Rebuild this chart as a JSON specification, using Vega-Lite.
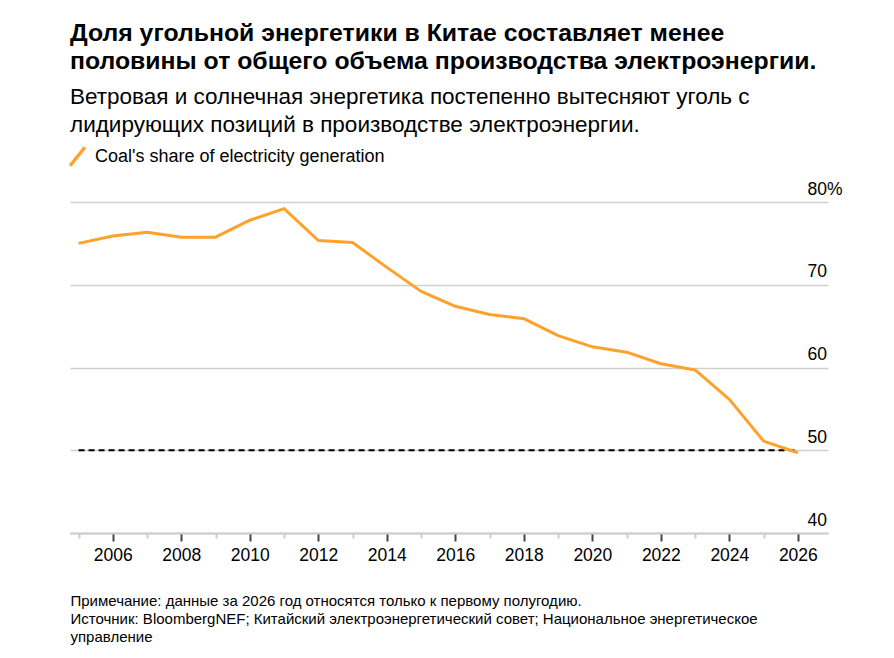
{
  "$schema": "https://vega.github.io/schema/vega-lite/v6.json",
  "description": "Coal's share of electricity generation in China",
  "width": 758,
  "height": 331,
  "autosize": "none",
  "padding": {"left": 70, "top": 202, "right": 66, "bottom": 125},
  "background": "white",
  "view": {"stroke": null},
  "title": {
    "text": ["Доля угольной энергетики в Китае составляет менее", "половины от общего объема производства электроэнергии."],
    "subtitle": ["Ветровая и солнечная энергетика постепенно вытесняют уголь с", "лидирующих позиций в производстве электроэнергии."],
    "anchor": "start",
    "frame": "group",
    "font": "Liberation Sans",
    "fontSize": 24.8,
    "fontWeight": "bold",
    "lineHeight": 28,
    "color": "#000000",
    "subtitleFont": "Liberation Sans",
    "subtitleFontSize": 22.5,
    "subtitleLineHeight": 28,
    "subtitleColor": "#000000",
    "subtitlePadding": 12,
    "offset": 6
  },
  "datasets": {
    "coal": [
      {"year": 2005, "share": 75.0, "series": "Coal's share of electricity generation"},
      {"year": 2006, "share": 75.9, "series": "Coal's share of electricity generation"},
      {"year": 2007, "share": 76.35, "series": "Coal's share of electricity generation"},
      {"year": 2008, "share": 75.75, "series": "Coal's share of electricity generation"},
      {"year": 2009, "share": 75.75, "series": "Coal's share of electricity generation"},
      {"year": 2010, "share": 77.8, "series": "Coal's share of electricity generation"},
      {"year": 2011, "share": 79.2, "series": "Coal's share of electricity generation"},
      {"year": 2012, "share": 75.35, "series": "Coal's share of electricity generation"},
      {"year": 2013, "share": 75.1, "series": "Coal's share of electricity generation"},
      {"year": 2014, "share": 72.1, "series": "Coal's share of electricity generation"},
      {"year": 2015, "share": 69.2, "series": "Coal's share of electricity generation"},
      {"year": 2016, "share": 67.4, "series": "Coal's share of electricity generation"},
      {"year": 2017, "share": 66.4, "series": "Coal's share of electricity generation"},
      {"year": 2018, "share": 65.9, "series": "Coal's share of electricity generation"},
      {"year": 2019, "share": 63.85, "series": "Coal's share of electricity generation"},
      {"year": 2020, "share": 62.5, "series": "Coal's share of electricity generation"},
      {"year": 2021, "share": 61.85, "series": "Coal's share of electricity generation"},
      {"year": 2022, "share": 60.45, "series": "Coal's share of electricity generation"},
      {"year": 2023, "share": 59.7, "series": "Coal's share of electricity generation"},
      {"year": 2024, "share": 56.15, "series": "Coal's share of electricity generation"},
      {"year": 2025, "share": 51.1, "series": "Coal's share of electricity generation"},
      {"year": 2026, "share": 49.7, "series": "Coal's share of electricity generation"}
    ],
    "threshold": [
      {"start": 2005, "end": 2026, "level": 50}
    ]
  },
  "layer": [
    {
      "data": {"name": "threshold"},
      "mark": {"type": "rule", "color": "#000000", "strokeWidth": 2, "strokeDash": [6, 4]},
      "encoding": {
        "x": {"field": "start", "type": "quantitative"},
        "x2": {"field": "end"},
        "y": {"field": "level", "type": "quantitative"}
      }
    },
    {
      "data": {"name": "coal"},
      "mark": {"type": "line", "strokeWidth": 3, "strokeJoin": "round"},
      "encoding": {
        "x": {
          "field": "year",
          "type": "quantitative",
          "scale": {"domain": [2004.75, 2026.88], "nice": false, "zero": false},
          "axis": {
            "values": [2005, 2006, 2007, 2008, 2009, 2010, 2011, 2012, 2013, 2014, 2015, 2016, 2017, 2018, 2019, 2020, 2021, 2022, 2023, 2024, 2025, 2026],
            "tickCount": 40,
            "format": "d",
            "labelExpr": "datum.value % 2 ? '' : datum.label",
            "grid": false,
            "domainColor": "#cccccc",
            "domainWidth": 2,
            "tickSize": 8,
            "tickDash": {"condition": {"test": "datum.value % 2 === 0", "value": []}, "value": [5, 20]},
            "tickColor": {"condition": {"test": "datum.value % 2 === 0", "value": "#444444"}, "value": "#cccccc"},
            "tickWidth": 2,
            "labelFont": "Liberation Sans",
            "labelFontSize": 17.5,
            "labelColor": "#000000",
            "labelPadding": 5,
            "labelOverlap": false,
            "labelFlush": false,
            "title": ["Примечание: данные за 2026 год относятся только к первому полугодию.", "Источник: BloombergNEF; Китайский электроэнергетический совет; Национальное энергетическое", "управление"],
            "titleFont": "Liberation Sans",
            "titleFontSize": 15,
            "titleFontWeight": "normal",
            "titleColor": "#000000",
            "titleLineHeight": 18,
            "titleAnchor": "start",
            "titleAlign": "left",
            "titleBaseline": "top",
            "titlePadding": 30
          }
        },
        "y": {
          "field": "share",
          "type": "quantitative",
          "scale": {"domain": [40, 80], "nice": false, "zero": false},
          "axis": {
            "orient": "right",
            "values": [40, 50, 60, 70, 80],
            "labelExpr": "datum.value === 80 ? '80%' : datum.label",
            "grid": true,
            "gridColor": "#d0d0d0",
            "gridWidth": 1.5,
            "domain": false,
            "ticks": false,
            "labelAlign": "left",
            "labelBaseline": "alphabetic",
            "labelPadding": -21,
            "labelOffset": -8,
            "labelFont": "Liberation Sans",
            "labelFontSize": 17.5,
            "labelColor": "#000000",
            "labelFlush": false,
            "labelOverlap": false,
            "title": null
          }
        },
        "color": {
          "field": "series",
          "type": "nominal",
          "scale": {"range": ["#ffa12b"]},
          "legend": {
            "orient": "none",
            "legendX": -7,
            "legendY": -60,
            "title": null,
            "symbolType": "M-0.6,0.75L0.6,-0.75",
            "symbolSize": 605,
            "symbolStrokeWidth": 3.5,
            "labelFont": "Liberation Sans",
            "labelFontSize": 18,
            "labelLimit": 0,
            "labelColor": "#000000",
            "labelOffset": 3,
            "padding": 0
          }
        }
      }
    }
  ]
}
